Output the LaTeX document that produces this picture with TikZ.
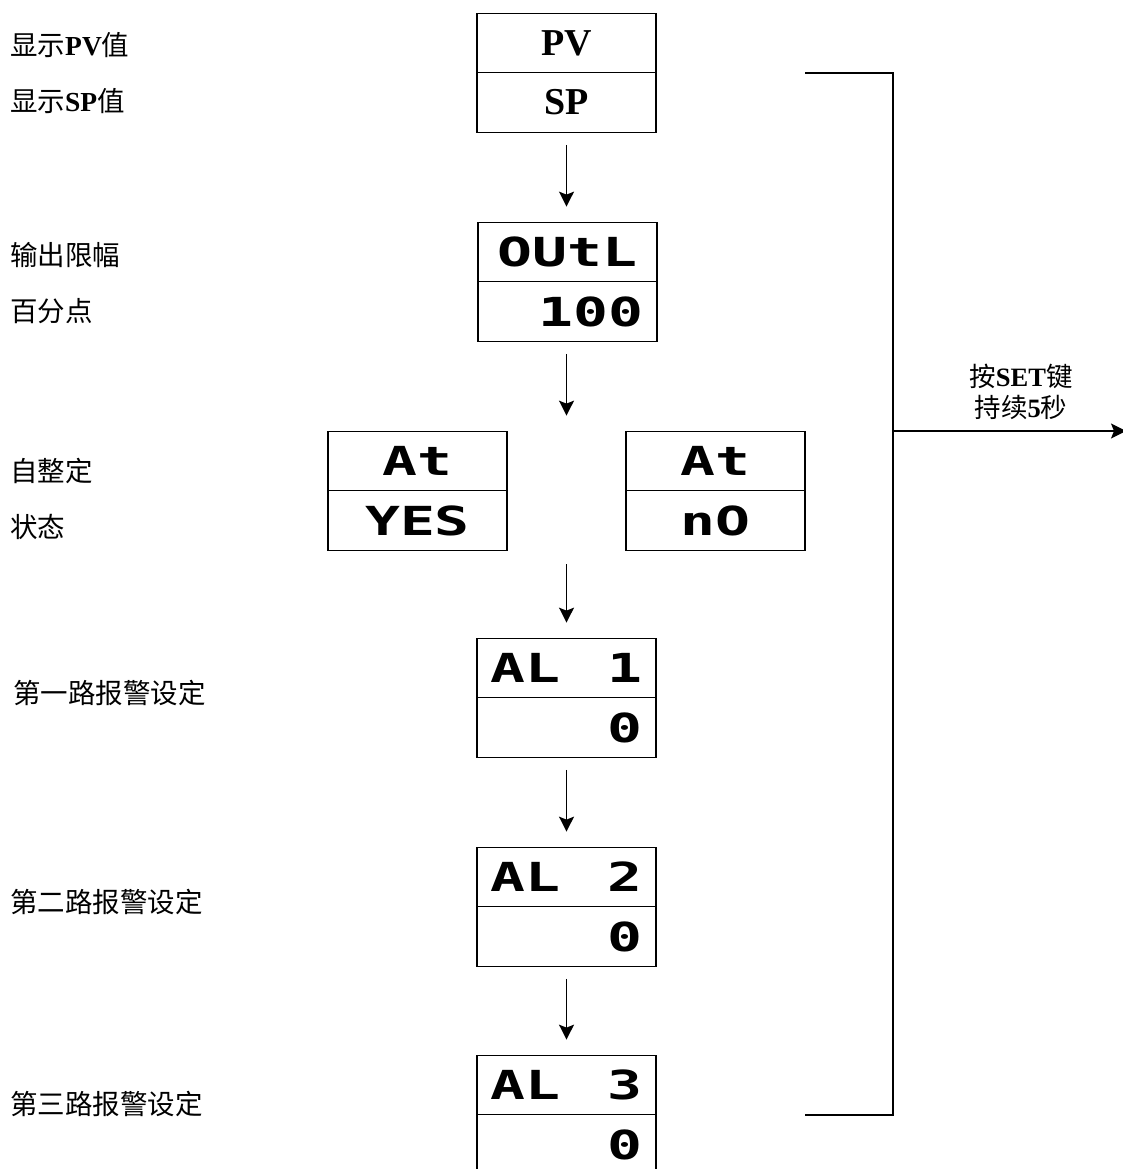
\documentclass[tikz,border=0pt]{standalone}
\usepackage{fontspec}
\setmainfont{Liberation Serif}
\newfontfamily\cjk{Noto Sans CJK SC}
\newfontfamily\segfont{DejaVu Sans Mono}[FakeStretch=1.45]
\usetikzlibrary{arrows.meta}
\tikzset{
  half/.style={draw, line width=1.2pt, rectangle, minimum width=179pt, minimum height=59.5pt, inner sep=0pt, anchor=center},
  segtxt/.style={font=\segfont\bfseries\fontsize{40}{40}\selectfont},
  pvtxt/.style={font=\bfseries\fontsize{38}{38}\selectfont},
  lab/.style={anchor=west, inner sep=0pt, font=\fontsize{27.5}{27.5}\selectfont},
  tip/.style={-{Stealth[length=15pt,width=15pt,inset=3pt]}},
  flow/.style={line width=1.5pt, tip, shorten <=12pt, shorten >=15pt},
  wire/.style={line width=1.4pt}
}
\newcommand{\cn}[1]{{\cjk #1}}
\begin{document}
\begin{tikzpicture}[x=1pt,y=-1pt]
\useasboundingbox (0,0) rectangle (1123,1169);
\clip (0,0) rectangle (1123,1169);
% left labels
\node[lab] (l1) at (10,45) {\cn{显示}\textbf{PV}\cn{值}};
\node[lab] (l2) at (10,101) {\cn{显示}\textbf{SP}\cn{值}};
\node[lab] (l3) at (10,255) {\cn{输出限幅}};
\node[lab] (l4) at (10,311) {\cn{百分点}};
\node[lab] (l5) at (10,471) {\cn{自整定}};
\node[lab] (l6) at (10,527) {\cn{状态}};
\node[lab] (l7) at (13,693) {\cn{第一路报警设定}};
\node[lab] (l8) at (10,902) {\cn{第二路报警设定}};
\node[lab] (l9) at (10,1104) {\cn{第三路报警设定}};
% boxes
\node[half, pvtxt] (pv) at (566.5,43) {PV};
\node[half, pvtxt] (sp) at (566.5,102.5) {SP};
\node[half, segtxt] (out) at (567.5,252) {OUtL};
\node[half, segtxt, text width=151pt, align=right] (out2) at (567.5,311.5) {100};
\node[half, segtxt] (at1) at (417.5,461) {At};
\node[half, segtxt] (yes) at (417.5,520.5) {YES};
\node[half, segtxt] (at2) at (715.5,461) {At};
\node[half, segtxt] (no) at (715.5,520.5) {nO};
\node[half, segtxt, text width=152pt, align=left] (al1) at (566.5,668) {AL\hfill 1};
\node[half, segtxt, text width=152pt, align=right] (al1v) at (566.5,727.5) {0};
\node[half, segtxt, text width=152pt, align=left] (al2) at (566.5,877) {AL\hfill 2};
\node[half, segtxt, text width=152pt, align=right] (al2v) at (566.5,936.5) {0};
\node[half, segtxt, text width=152pt, align=left] (al3) at (566.5,1085) {AL\hfill 3};
\node[half, segtxt, text width=152pt, align=right] (al3v) at (566.5,1144.5) {0};
% flow arrows
\coordinate (atmid) at (566.5,552);
\draw[flow] (sp.south) -- (sp.south |- out.north);
\draw[flow] (sp.south |- out2.south) -- (sp.south |- at1.north);
\draw[flow] (atmid) -- (al1.north);
\draw[flow] (al1v.south) -- (al2.north);
\draw[flow] (al2v.south) -- (al3.north);
% right bracket
\coordinate (bt) at (805,73);
\coordinate (bb) at (805,1115);
\coordinate (bx) at (893,431);
\coordinate (be) at (1126,431);
\draw[wire] (bt) -- (893,73) -- (893,1115) -- (bb);
\draw[wire, tip] (bx) -- (be);
\node[font=\fontsize{26.5}{26.5}\selectfont, align=center, inner sep=0pt] (key) at (1021,392) {\cn{按}\textbf{SET}\cn{键}\\[4pt]\cn{持续}\textbf{5}\cn{秒}};
\end{tikzpicture}
\end{document}
